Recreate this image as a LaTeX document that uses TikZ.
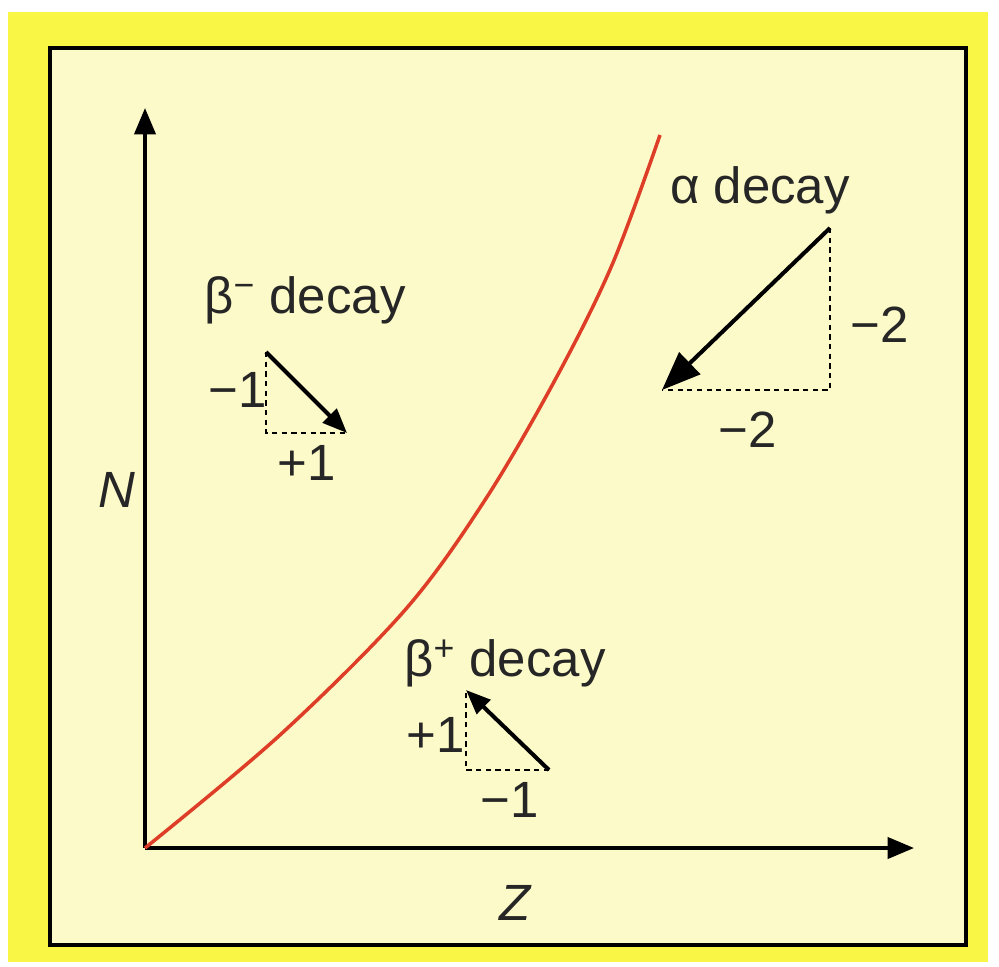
\documentclass[tikz,border=0pt]{standalone}
\usepackage{fontspec}
\setmainfont{Liberation Sans}
\usetikzlibrary{arrows.meta}
\definecolor{paper}{RGB}{252,250,200}
\definecolor{marker}{RGB}{250,246,70}
\definecolor{curvered}{RGB}{222,62,40}
\tikzset{
	axis/.style={line width=2.1pt, -{Triangle[length=15pt, width=12pt]}},
	decayarrow/.style={line width=2.3pt, -{Triangle[length=14pt, width=11pt]}},
	bigarrow/.style={line width=2.3pt, -{Triangle[length=22pt, width=17pt]}},
	leg/.style={line width=1.3pt, dash pattern=on 3pt off 2.5pt},
	lab/.style={inner sep=1pt, text=black!85, font=\fontsize{29}{34}\selectfont},
}
\begin{document}
\begin{tikzpicture}[x=0.02cm, y=-0.02cm]
	% Background and frame:
	\useasboundingbox (0,0) rectangle (999,966);
	\fill[white] (0,0) rectangle (999,966);
	\fill[marker] (8,12) rectangle (988,962);
	\fill[paper, draw=black, line width=2.2pt] (50,48) rectangle (966,945);
	% Axes:
	\coordinate (O) at (145,848);
	\coordinate (ytip) at (145,108);
	\coordinate (xtip) at (914,848);
	\draw[axis] (O) -- (ytip);
	\draw[axis] (O) -- (xtip);
	\node[lab, font=\fontsize{29}{34}\selectfont\itshape] (N) at (117,490) {N};
	\node[lab, font=\fontsize{29}{34}\selectfont\itshape] (Z) at (515,903) {Z};
	% Stability line:
	\draw[curvered, line width=2pt] plot[smooth, tension=0.55] coordinates {(145,848) (280,735) (405,610) (485,500) (555,380) (612,265) (660,135)};
	% alpha decay:
	\node[lab] (alpha) at (760,190) {α decay};
	\coordinate (a1) at (830,228);
	\coordinate (a2) at (830,390);
	\coordinate (a3) at (662,390);
	\draw[leg] (a1) -- (a2) -- (a3);
	\draw[bigarrow] (a1) -- (a3);
	\node[lab] (adz) at (880,325) {−2};
	\node[lab] (adn) at (748,430) {−2};
	% beta minus decay:
	\node[lab] (betam) at (305,300) {β\textsuperscript{−} decay};
	\coordinate (m1) at (266,352);
	\coordinate (m2) at (266,433);
	\coordinate (m3) at (347,433);
	\draw[leg] (m1) -- (m2) -- (m3);
	\draw[decayarrow] (m1) -- (m3);
	\node[lab] (mdn) at (238,390) {−1};
	\node[lab] (mdz) at (307,463) {+1};
	% beta plus decay:
	\node[lab] (betap) at (505,663) {β\textsuperscript{+} decay};
	\coordinate (p1) at (549,770);
	\coordinate (p2) at (466,770);
	\coordinate (p3) at (466,690);
	\draw[leg] (p1) -- (p2) -- (p3);
	\draw[decayarrow] (p1) -- (p3);
	\node[lab] (pdn) at (436,735) {+1};
	\node[lab] (pdz) at (510,800) {−1};
\end{tikzpicture}
\end{document}
